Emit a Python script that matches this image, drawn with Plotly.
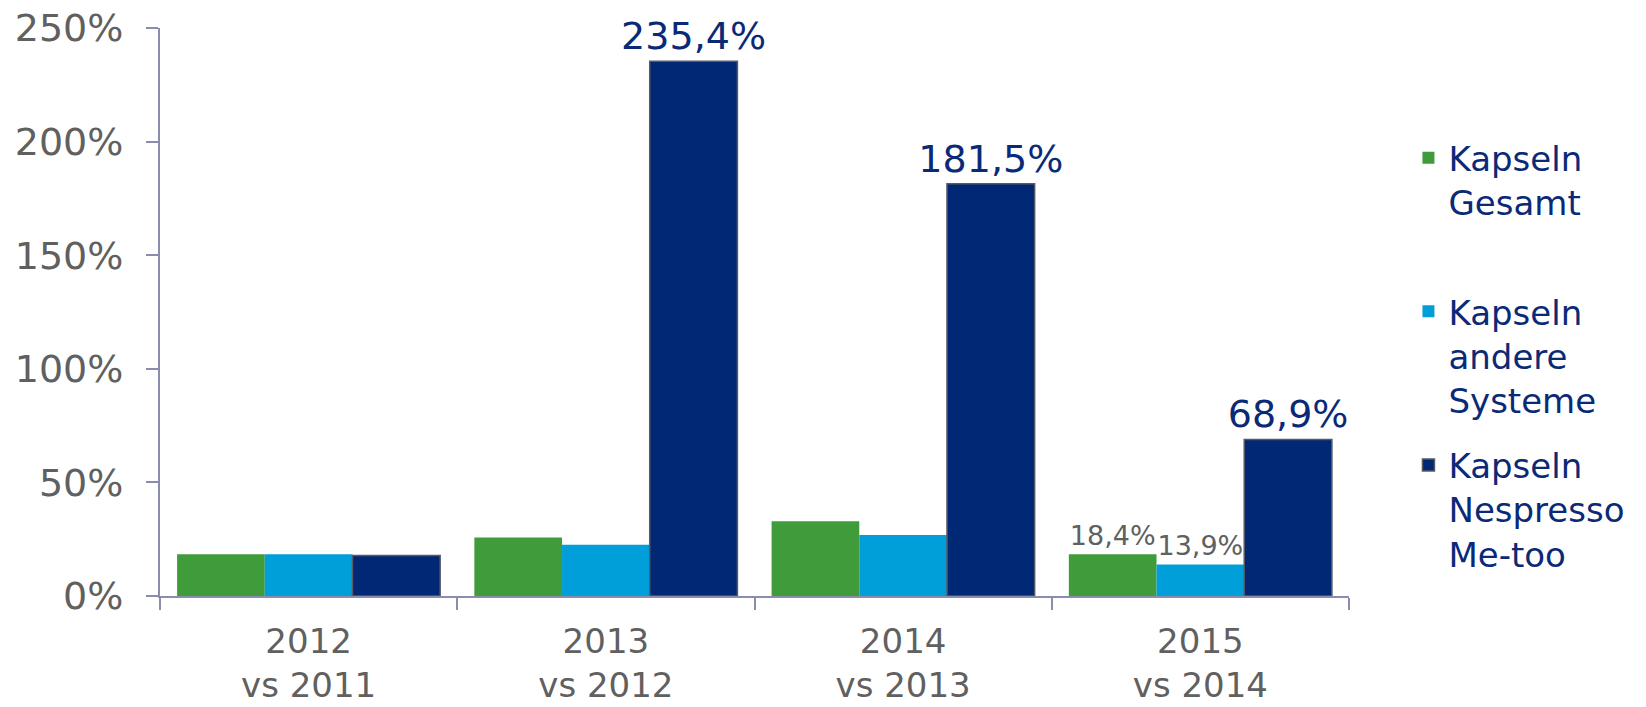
import plotly.graph_objects as go

categories = ["2012<br>vs 2011", "2013<br>vs 2012", "2014<br>vs 2013", "2015<br>vs 2014"]
series_names = ["Kapseln<br>Gesamt<br> ", "Kapseln<br>andere<br>Systeme", "Kapseln<br>Nespresso<br>Me-too"]
gesamt = [18.4, 25.7, 32.9, 18.4]
andere = [18.4, 22.6, 26.9, 13.9]
metoo = [17.8, 235.4, 181.5, 68.9]
gesamt_labels = ["", "", "", "18,4%"]
andere_labels = ["", "", "", "13,9%"]
metoo_labels = ["", "235,4%", "181,5%", "68,9%"]
tick_vals = [0, 50, 100, 150, 200, 250]
tick_text = ["0%", "50%", "100%", "150%", "200%", "250%"]

GREEN = "#409B3A"
CYAN = "#009FDA"
NAVY = "#002874"
TEXT_NAVY = "#0A2A78"
GRAY = "#606060"
AXIS = "#8A8DAE"
FONT = "DejaVu Sans"

fig = go.Figure()
fig.add_trace(go.Bar(x=categories, y=gesamt, name=series_names[0], legendgroup="a",
                     marker=dict(color=GREEN, line=dict(width=0)),
                     text=gesamt_labels, textposition="outside", cliponaxis=False,
                     constraintext="none", textangle=0,
                     textfont=dict(family=FONT, size=27, color=GRAY)))
fig.add_trace(go.Bar(x=categories, y=andere, name=series_names[1], legendgroup="b",
                     marker=dict(color=CYAN, line=dict(width=0)),
                     text=andere_labels, textposition="outside", cliponaxis=False,
                     constraintext="none", textangle=0,
                     textfont=dict(family=FONT, size=27, color=GRAY)))
fig.add_trace(go.Bar(x=categories, y=metoo, name=series_names[2], legendgroup="c",
                     marker=dict(color=NAVY, line=dict(width=1.5, color="#5A5A66")),
                     text=metoo_labels, textposition="outside", cliponaxis=False,
                     constraintext="none", textangle=0,
                     textfont=dict(family=FONT, size=38, color=TEXT_NAVY)))

fig.update_layout(
    width=1646, height=707,
    margin=dict(l=160, r=297, t=28, b=111),
    paper_bgcolor="white", plot_bgcolor="white",
    barmode="group", bargap=0.115, bargroupgap=0,
    font=dict(family=FONT, color=GRAY),
    legend=dict(x=1.05, xanchor="left", y=0.822, yanchor="top",
                font=dict(family=FONT, size=34, color=TEXT_NAVY),
                valign="top", traceorder="grouped", tracegroupgap=18,
                bgcolor="rgba(0,0,0,0)"),
    showlegend=True,
)
fig.update_yaxes(range=[0, 250], tickmode="array", tickvals=tick_vals, ticktext=tick_text,
                 automargin=False, showgrid=False, zeroline=False,
                 showline=True, linecolor=AXIS, linewidth=2,
                 ticks="outside", ticklen=12, tickcolor=AXIS, tickwidth=2,
                 ticklabelstandoff=15,
                 tickfont=dict(family=FONT, size=38, color=GRAY))
fig.update_xaxes(automargin=False, showgrid=False, showline=True, linecolor=AXIS, linewidth=2,
                 ticks="outside", tickson="boundaries", ticklen=12,
                 tickcolor=AXIS, tickwidth=2, ticklabelstandoff=14,
                 tickfont=dict(family=FONT, size=34, color=GRAY))

fig.write_html("out.html", config={"displayModeBar": False},
               post_script="document.body.style.margin='0';document.body.style.overflow='hidden';")
